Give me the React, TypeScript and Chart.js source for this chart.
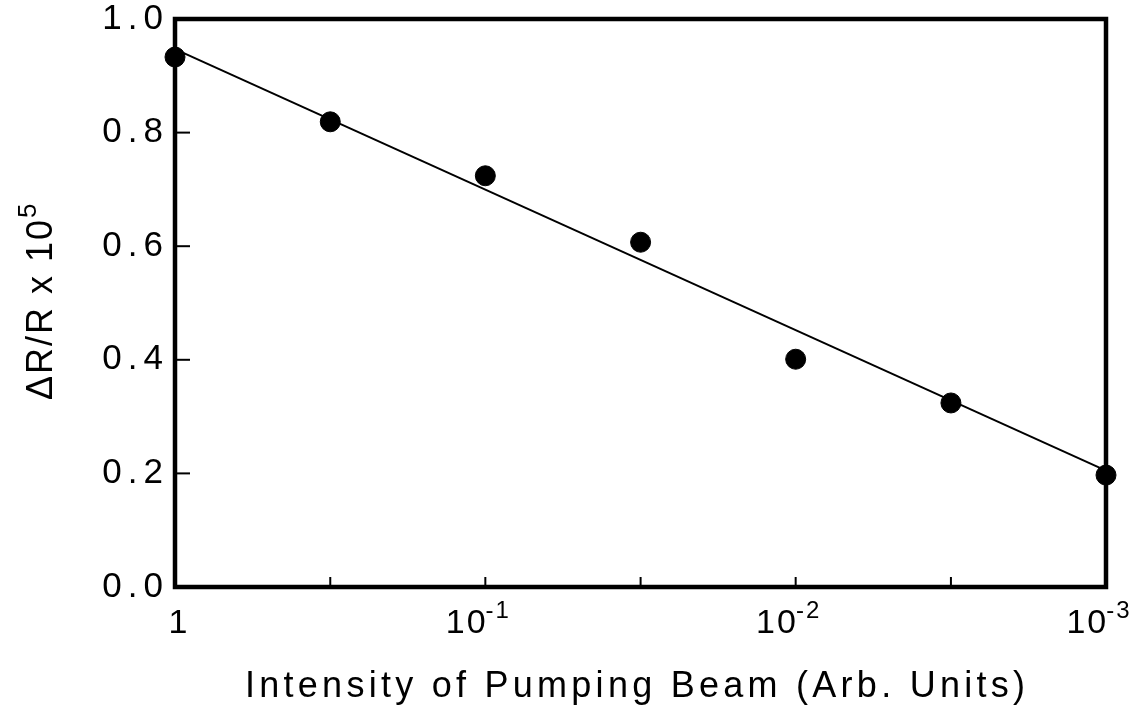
import React, { useEffect, useRef } from "react";
import { Chart, registerables } from "chart.js";

Chart.register(...registerables);

const intensity = [1, 0.316, 0.1, 0.0316, 0.01, 0.00316, 0.001];
const deltaR = [0.933, 0.819, 0.724, 0.607, 0.401, 0.324, 0.197];
const fitX = [1, 0.001];
const fitY = [0.947, 0.205];
const xTickValues = [1, 0.316, 0.1, 0.0316, 0.01, 0.00316, 0.001];
const xTickLabels = ["1", "", "10|-1", "", "10|-2", "", "10|-3"];
const yTickValues = [0, 0.2, 0.4, 0.6, 0.8, 1.0];
const yTickLabels = ["0.0", "0.2", "0.4", "0.6", "0.8", "1.0"];
const xTitle = "Intensity of Pumping Beam (Arb. Units)";
const yTitleMain = "ΔR/R x 10";
const yTitleSup = "5";

const FONT = "'Liberation Sans', Arial, sans-serif";

const framePlugin = {
  id: "frame",
  afterDatasetsDraw(chart: any) {
    const { ctx, chartArea: a, scales } = chart;
    const xs = scales.x;
    const ys = scales.y;
    ctx.save();
    ctx.fillStyle = "#000";
    ctx.strokeStyle = "#000";
    // frame
    ctx.lineWidth = 4.5;
    ctx.strokeRect(a.left, a.top, a.right - a.left, a.bottom - a.top);
    // y ticks (inward)
    ctx.lineWidth = 2;
    yTickValues.forEach((v) => {
      const py = ys.getPixelForValue(v);
      ctx.beginPath();
      ctx.moveTo(a.left, py);
      ctx.lineTo(a.left + 15, py);
      ctx.stroke();
    });
    // x ticks (inward)
    xTickValues.forEach((v) => {
      const px = xs.getPixelForValue(v);
      ctx.beginPath();
      ctx.moveTo(px, a.bottom);
      ctx.lineTo(px, a.bottom - 10);
      ctx.stroke();
    });
    // y tick labels
    ctx.font = `35px ${FONT}`;
    (ctx as any).letterSpacing = "6px";
    ctx.textAlign = "right";
    ctx.textBaseline = "middle";
    yTickValues.forEach((v, i) => {
      const py = ys.getPixelForValue(v);
      ctx.fillText(yTickLabels[i], a.left - 6, py);
    });
    // x tick labels
    (ctx as any).letterSpacing = "2px";
    ctx.textBaseline = "alphabetic";
    xTickValues.forEach((v, i) => {
      const lab = xTickLabels[i];
      if (!lab) return;
      const px = xs.getPixelForValue(v);
      const baseY = a.bottom + 46;
      const [base, sup] = lab.split("|");
      ctx.font = `34px ${FONT}`;
      const wb = ctx.measureText(base).width;
      let ws = 0;
      if (sup) {
        ctx.font = `24px ${FONT}`;
        ws = ctx.measureText(sup).width;
      }
      const startX = sup ? px - (wb + ws) / 2 - 6 : px - wb / 2 + 4;
      ctx.textAlign = "left";
      ctx.font = `34px ${FONT}`;
      ctx.fillText(base, startX, baseY);
      if (sup) {
        ctx.font = `24px ${FONT}`;
        ctx.fillText(sup, startX + wb - 2, baseY - 15);
      }
    });
    // x title
    ctx.font = `36px ${FONT}`;
    (ctx as any).letterSpacing = "0px";
    const targetW = 780;
    const w0 = ctx.measureText(xTitle).width;
    const ls = Math.max(0, (targetW - w0) / (xTitle.length - 1));
    (ctx as any).letterSpacing = `${ls}px`;
    ctx.textAlign = "left";
    ctx.fillText(xTitle, 245, 697);
    // y title
    ctx.translate(52, 400);
    ctx.rotate(-Math.PI / 2);
    ctx.font = `36px ${FONT}`;
    (ctx as any).letterSpacing = "2px";
    ctx.textAlign = "left";
    ctx.fillText(yTitleMain, 0, 0);
    const wm = ctx.measureText(yTitleMain).width;
    ctx.font = `26px ${FONT}`;
    ctx.fillText(yTitleSup, wm, -16);
    ctx.restore();
  },
};

export default function App() {
  const ref = useRef<HTMLCanvasElement>(null);
  useEffect(() => {
    document.body.style.margin = "0";
    const chart = new Chart(ref.current as HTMLCanvasElement, {
      type: "scatter",
      data: {
        datasets: [
          {
            label: "fit",
            data: fitX.map((x, i) => ({ x, y: fitY[i] })),
            showLine: true,
            borderColor: "#000",
            borderWidth: 2,
            pointRadius: 0,
          },
          {
            label: "data",
            data: intensity.map((x, i) => ({ x, y: deltaR[i] })),
            backgroundColor: "#000",
            borderColor: "#000",
            pointRadius: 10,
            pointHoverRadius: 10,
          },
        ],
      },
      options: {
        animation: false,
        responsive: false,
        clip: false as any,
        layout: { padding: { left: 175, top: 19, right: 27, bottom: 119 } },
        plugins: { legend: { display: false }, tooltip: { enabled: false } },
        scales: {
          x: {
            type: "logarithmic",
            reverse: true,
            min: 0.001,
            max: 1,
            display: false,
          },
          y: {
            min: 0,
            max: 1,
            display: false,
          },
        },
      },
      plugins: [framePlugin],
    });
    return () => chart.destroy();
  }, []);
  return (
    <div style={{ width: 1133, height: 706, background: "#fff" }}>
      <canvas ref={ref} width={1133} height={706} style={{ display: "block" }} />
    </div>
  );
}
